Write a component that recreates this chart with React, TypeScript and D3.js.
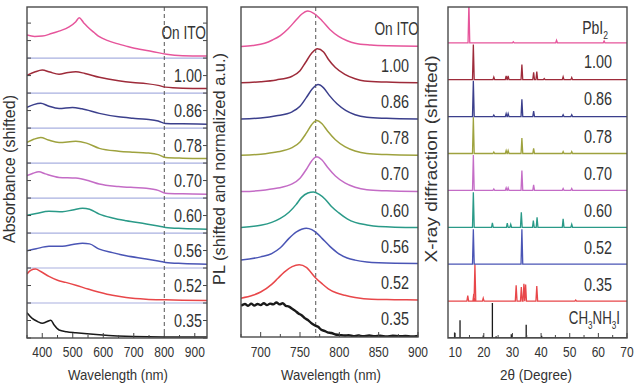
import React from 'react';
import * as d3 from 'd3';

// ---------- data ----------
const sampleLabels = ['0.35', '0.52', '0.56', '0.60', '0.70', '0.78', '0.86', '1.00', 'On ITO'];
const xrdLabels = ['CH3NH3I', '0.35', '0.52', '0.60', '0.70', '0.78', '0.86', '1.00', 'PbI2'];
const seriesColors = ['#1a1a1a', '#e8474a', '#4a55b5', '#2a9a88', '#c46cc6', '#9ea23e', '#3b3f8c', '#9e2b3a', '#e6559b'];
const xrdColors = ['#1a1a1a', '#e8474a', '#4a55b5', '#2a9a88', '#c46cc6', '#9ea23e', '#3b3f8c', '#9e2b3a', '#e6559b'];

// Absorbance (nm, shifted a.u.) one band per sample
const abs035 = [[350,0.72],[367,0.56],[385,0.47],[400,0.42],[416,0.47],[428,0.51],[439,0.37],[455,0.23],[480,0.18],[510,0.15],[587,0.09],[697,0.04],[800,0.03],[940,0.03]];
const abs052 = [[350,0.83],[362,0.93],[378,0.97],[395,0.9],[422,0.76],[450,0.65],[477,0.59],[510,0.51],[550,0.4],[587,0.31],[630,0.22],[675,0.16],[740,0.11],[804,0.09],[940,0.07]];
const abs056 = [[350,0.49],[380,0.55],[422,0.62],[466,0.62],[500,0.67],[532,0.71],[555,0.69],[587,0.54],[630,0.44],[675,0.35],[741,0.26],[780,0.2],[804,0.16],[860,0.13],[940,0.11]];
const abs060 = [[350,0.51],[380,0.56],[422,0.62],[466,0.61],[500,0.66],[532,0.71],[555,0.68],[587,0.54],[630,0.43],[675,0.35],[741,0.26],[780,0.2],[804,0.16],[860,0.13],[940,0.11]];
const abs070 = [[350,0.64],[370,0.71],[389,0.75],[410,0.69],[455,0.59],[510,0.57],[550,0.5],[587,0.4],[650,0.33],[700,0.3],[741,0.28],[780,0.22],[804,0.14],[860,0.12],[940,0.11]];
const abs078 = [[350,0.59],[372,0.68],[395,0.73],[420,0.66],[455,0.59],[510,0.62],[545,0.57],[587,0.42],[650,0.34],[700,0.31],[741,0.29],[780,0.24],[804,0.16],[860,0.14],[940,0.13]];
const abs086 = [[350,0.59],[372,0.67],[395,0.71],[420,0.63],[455,0.56],[499,0.59],[530,0.55],[587,0.42],[650,0.32],[697,0.28],[741,0.25],[780,0.2],[804,0.13],[860,0.12],[940,0.11]];
const abs100 = [[350,0.51],[375,0.6],[400,0.66],[425,0.6],[455,0.54],[485,0.59],[510,0.61],[540,0.56],[587,0.45],[650,0.35],[697,0.3],[741,0.27],[780,0.22],[804,0.17],[860,0.14],[940,0.13]];
const absITO = [[350,0.66],[375,0.62],[400,0.63],[430,0.7],[455,0.77],[488,0.89],[510,1.04],[521,1.15],[535,1.02],[549,0.89],[570,0.73],[587,0.61],[615,0.5],[642,0.42],[680,0.33],[719,0.25],[760,0.19],[807,0.11],[860,0.07],[940,0.06]];

// PL (nm, normalized)
const pl035 = [[675,0.86],[680,0.91],[684,0.86],[688,0.92],[692,0.87],[696,0.91],[700,0.88],[704,0.93],[708,0.88],[712,0.92],[716,0.9],[720,0.95],[724,0.9],[728,0.93],[732,0.86],[736,0.84],[740,0.78],[744,0.72],[748,0.65],[752,0.6],[756,0.52],[760,0.47],[764,0.39],[768,0.33],[773,0.28],[777,0.2],[781,0.17],[785,0.13],[790,0.11],[795,0.07],[800,0.06],[807,0.04],[812,0.05],[818,0.02],[824,0.04],[830,0.02],[838,0.04],[845,0.02],[852,0.035],[860,0.015],[868,0.035],[876,0.02],[884,0.03],[892,0.015],[900,0.03]];
const pl052 = [[675,0.07],[690,0.15],[700,0.24],[714,0.45],[722,0.62],[730,0.79],[740,0.94],[749,0.99],[758,0.92],[769,0.65],[778,0.47],[786,0.33],[796,0.22],[807,0.15],[820,0.09],[841,0.04],[870,0.03],[900,0.02]];
const pl056 = [[675,0.12],[700,0.21],[714,0.3],[725,0.46],[736,0.72],[745,0.89],[752,0.97],[758,1.0],[765,0.96],[772,0.85],[778,0.72],[788,0.5],[799,0.3],[810,0.18],[820,0.12],[835,0.07],[850,0.05],[900,0.03]];
const pl060 = [[675,0.02],[700,0.08],[714,0.16],[725,0.27],[736,0.44],[745,0.65],[752,0.85],[760,0.97],[767,1.0],[774,0.94],[782,0.8],[790,0.6],[799,0.43],[810,0.26],[820,0.16],[835,0.09],[850,0.05],[900,0.02]];
const pl070 = [[675,0.01],[700,0.04],[720,0.1],[740,0.22],[750,0.38],[758,0.62],[765,0.86],[771,0.97],[778,0.88],[785,0.68],[795,0.44],[807,0.25],[820,0.13],[835,0.06],[860,0.03],[900,0.01]];
const pl078 = [[675,0.01],[700,0.04],[720,0.1],[740,0.22],[750,0.38],[758,0.62],[765,0.86],[771,0.97],[778,0.88],[785,0.68],[795,0.44],[807,0.25],[820,0.13],[835,0.06],[860,0.03],[900,0.01]];
const pl086 = [[675,0.01],[700,0.04],[720,0.1],[740,0.21],[750,0.36],[758,0.6],[766,0.85],[773,0.96],[780,0.87],[787,0.67],[797,0.43],[808,0.25],[820,0.13],[835,0.06],[860,0.03],[900,0.01]];
const pl100 = [[675,0.01],[700,0.04],[720,0.09],[740,0.19],[750,0.34],[757,0.57],[765,0.83],[772,0.95],[780,0.86],[786,0.66],[795,0.43],[807,0.24],[820,0.12],[832,0.06],[860,0.03],[900,0.01]];
const plITO = [[675,0.01],[690,0.04],[705,0.1],[715,0.19],[725,0.31],[735,0.5],[745,0.74],[752,0.9],[760,0.99],[768,0.92],[778,0.72],[788,0.48],[799,0.29],[810,0.17],[820,0.1],[840,0.05],[862,0.03],[900,0.02]];

// XRD peaks (2theta, height)
const xrdMAI = [[9.8,0.15],[11.7,0.48],[19.8,0.07],[23.0,0.95],[24.3,0.05],[29.6,0.1],[34.8,0.36],[40.2,0.06]];
const xrd035 = [[14.4,0.15],[16.5,0.2],[16.9,1.0],[19.8,0.08],[31.3,0.43],[33.1,0.38],[34.0,0.47],[34.6,0.45],[38.5,0.41],[52.1,0.03]];
const xrd052 = [[16.35,0.95],[33.3,0.95]];
const xrd060 = [[16.35,0.95],[23.0,0.12],[28.2,0.11],[29.4,0.08],[33.1,0.41],[37.3,0.18],[38.6,0.27],[47.7,0.23],[50.7,0.08]];
const xrd070 = [[16.35,0.96],[23.5,0.04],[27.8,0.07],[28.5,0.07],[33.3,0.54],[37.4,0.15],[47.7,0.05],[50.7,0.05]];
const xrd078 = [[16.35,0.98],[23.5,0.04],[27.8,0.08],[28.5,0.08],[33.3,0.42],[37.4,0.14],[47.7,0.05],[50.7,0.05]];
const xrd086 = [[16.35,0.97],[23.5,0.04],[27.8,0.08],[28.5,0.08],[33.3,0.47],[37.4,0.15],[47.7,0.05],[50.7,0.05]];
const xrd100 = [[16.35,0.95],[23.5,0.07],[27.8,0.1],[28.5,0.1],[33.3,0.41],[37.4,0.2],[38.5,0.22],[41.1,0.03],[47.7,0.08],[50.7,0.06]];
const xrdPbI2 = [[14.8,1.1],[30.3,0.03],[45.4,0.07],[62.0,0.05]];

const absSeries = [abs035, abs052, abs056, abs060, abs070, abs078, abs086, abs100, absITO];
const plSeries = [pl035, pl052, pl056, pl060, pl070, pl078, pl086, pl100, plITO];
const xrdSeries = [xrdMAI, xrd035, xrd052, xrd060, xrd070, xrd078, xrd086, xrd100, xrdPbI2];

const absTicks = [400, 500, 600, 700, 800, 900];
const plTicks = [700, 750, 800, 850, 900];
const xrdTicks = [10, 20, 30, 40, 50, 60, 70];

// ---------- layout ----------
const FONT = "'Liberation Sans', Arial, sans-serif";
const TOP = 7;
const BOT = 338;
const INK = '#333';

const absX = d3.scaleLinear().domain([350, 940]).range([27, 207]);
const absY = d3.scaleLinear().domain([0, 9.46]).range([BOT, TOP]);
const plX = d3.scaleLinear().domain([675, 900]).range([241, 418]);
const plY = d3.scaleLinear().domain([0, 9.1]).range([337, TOP]);
const xrdX = d3.scaleLinear().domain([7.5, 70]).range([448, 627]);
const xrdY = d3.scaleLinear().domain([0, 8.97]).range([BOT, TOP]);

const absLabelOff = [0.5, 0.5, 0.5, 0.5, 0.5, 0.5, 0.5, 0.5, 0.72];
const plLabelOff = [0.5, 0.5, 0.5, 0.5, 0.5, 0.5, 0.5, 0.5, 0.5];
const xrdLabelOff = [0.55, 0.45, 0.45, 0.45, 0.45, 0.45, 0.48, 0.48, 0.42];

function smoothPath(pts: number[][], k: number, sx: any, sy: any) {
  return d3.line<number[]>()
    .x(d => sx(d[0]))
    .y(d => sy(d[1] + k))
    .curve(d3.curveMonotoneX)(pts) || '';
}

function xrdPath(peaks: number[][], k: number, stick: boolean) {
  const pts: number[][] = [[7.5, 0]];
  peaks.forEach(([p, h]) => {
    const w = stick ? 0 : 0.3;
    pts.push([p - w, 0], [p, h], [p + w, 0]);
  });
  pts.push([70, 0]);
  return d3.line<number[]>().x(d => xrdX(d[0])).y(d => xrdY(d[1] + k))(pts) || '';
}

function Frame({ x0, x1, y0, y1 }: any) {
  return <rect x={x0} y={y0} width={x1 - x0} height={y1 - y0} fill="none" stroke="#4a4a4a" strokeWidth={1.4} />;
}

// condensed text: drawn at origin then squeezed horizontally
function CT({ x, y, size, sx = 0.8, anchor = 'middle', children }: any) {
  return (
    <text transform={`translate(${x},${y}) scale(${sx},1)`} fontSize={size} textAnchor={anchor} fontFamily={FONT} fill={INK}>
      {children}
    </text>
  );
}

function LabelText({ text, x, y }: any) {
  const size = 18;
  if (text === 'PbI2') {
    return (
      <CT x={x} y={y} size={size} sx={0.78} anchor="end">
        PbI<tspan fontSize={11} dy={5}>2</tspan>
      </CT>
    );
  }
  if (text === 'CH3NH3I') {
    return (
      <CT x={x} y={y} size={size} sx={0.74} anchor="end">
        CH<tspan fontSize={11} dy={5}>3</tspan><tspan dy={-5}>NH</tspan><tspan fontSize={11} dy={5}>3</tspan><tspan dy={-5}>I</tspan>
      </CT>
    );
  }
  return <CT x={x} y={y} size={size} sx={text === 'On ITO' ? 0.76 : 0.8} anchor="end">{text}</CT>;
}

function YTitle({ x, y, len, children }: any) {
  return (
    <text transform={`translate(${x},${y}) rotate(-90)`} fontSize={16} textAnchor="middle" fontFamily={FONT} fill={INK}
      textLength={len} lengthAdjust="spacingAndGlyphs">{children}</text>
  );
}

function XTitle({ x, y, len, children }: any) {
  return (
    <text x={x} y={y} fontSize={15} textAnchor="middle" fontFamily={FONT} fill={INK}
      textLength={len} lengthAdjust="spacingAndGlyphs">{children}</text>
  );
}

export default function App() {
  const absMinor = d3.range(350, 941, 50);
  const plMinor = d3.range(675, 901, 25);
  const xrdMinor = d3.range(10, 71, 5);
  const absYTicks = d3.range(0, 9.5, 0.5);

  return (
    <svg width={638} height={390} style={{ position: 'absolute', left: 0, top: 0, background: '#fff' }}>
      <defs>
        <clipPath id="cA"><rect x={27} y={TOP} width={180} height={BOT - TOP} /></clipPath>
        <clipPath id="cP"><rect x={241} y={TOP} width={177} height={337 - TOP} /></clipPath>
        <clipPath id="cX"><rect x={448} y={TOP} width={179} height={BOT - TOP} /></clipPath>
      </defs>

      {/* ---------- Absorbance panel ---------- */}
      <g clipPath="url(#cA)">
        {d3.range(1, 9).map(k => (
          <line key={k} x1={27} x2={207} y1={absY(k)} y2={absY(k)} stroke="#a9b0e0" strokeWidth={1.2} />
        ))}
        <line x1={absX(800)} x2={absX(800)} y1={TOP} y2={BOT} stroke="#555" strokeDasharray="4,3" strokeWidth={1} />
        {absSeries.map((s, k) => (
          <path key={k} d={smoothPath(s, k, absX, absY)} fill="none" stroke={seriesColors[k]} strokeWidth={1.5} />
        ))}
      </g>
      {absMinor.map(v => (
        <line key={v} x1={absX(v)} x2={absX(v)} y1={BOT} y2={BOT - (v % 100 === 0 ? 5 : 3)} stroke="#444" strokeWidth={1} />
      ))}
      {absYTicks.map(v => (
        <g key={v}>
          <line x1={27} x2={31} y1={absY(v)} y2={absY(v)} stroke="#444" strokeWidth={1} />
          <line x1={207} x2={203} y1={absY(v)} y2={absY(v)} stroke="#444" strokeWidth={1} />
        </g>
      ))}
      {sampleLabels.map((t, k) => (
        <LabelText key={t} text={t} x={k === 8 ? 206 : 202} y={absY(k + absLabelOff[k]) + 6.5} />
      ))}
      <Frame x0={27} x1={207} y0={TOP} y1={BOT} />
      {absTicks.map(v => (
        <CT key={v} x={absX(v)} y={357} size={15}>{v}</CT>
      ))}
      <XTitle x={118} y={380} len={100}>Wavelength (nm)</XTitle>
      <YTitle x={15} y={169} len={148}>Absorbance (shifted)</YTitle>

      {/* ---------- PL panel ---------- */}
      <g clipPath="url(#cP)">
        <line x1={plX(770)} x2={plX(770)} y1={TOP} y2={337} stroke="#555" strokeDasharray="4,3" strokeWidth={1} />
        {plSeries.map((s, k) => (
          <path key={k} d={smoothPath(s, k, plX, plY)} fill="none" stroke={seriesColors[k]} strokeWidth={k === 0 ? 2.4 : 1.5} />
        ))}
      </g>
      {plMinor.map(v => (
        <line key={v} x1={plX(v)} x2={plX(v)} y1={337} y2={337 - (v % 50 === 0 ? 5 : 3)} stroke="#444" strokeWidth={1} />
      ))}
      {sampleLabels.map((t, k) => (
        <LabelText key={t} text={t} x={k === 8 ? 419 : 409} y={plY(k + plLabelOff[k]) + 6.5} />
      ))}
      <Frame x0={241} x1={418} y0={TOP} y1={337} />
      {plTicks.map(v => (
        <CT key={v} x={plX(v)} y={357} size={15}>{v}</CT>
      ))}
      <XTitle x={331} y={380} len={100}>Wavelength (nm)</XTitle>
      <YTitle x={225} y={169} len={232}>PL (shifted and normalized a.u.)</YTitle>

      {/* ---------- XRD panel ---------- */}
      <g clipPath="url(#cX)">
        {xrdSeries.map((s, k) => (
          <path key={k} d={xrdPath(s, k, k === 0)} fill="none" stroke={xrdColors[k]} strokeWidth={1.3} />
        ))}
      </g>
      {xrdMinor.map(v => (
        <line key={v} x1={xrdX(v)} x2={xrdX(v)} y1={BOT} y2={BOT - (v % 10 === 0 ? 5 : 3)} stroke="#444" strokeWidth={1} />
      ))}
      {xrdLabels.map((t, k) => (
        <LabelText key={t} text={t} x={k === 0 ? 620 : k === 8 ? 608 : 612} y={xrdY(k + xrdLabelOff[k]) + 6.5} />
      ))}
      <Frame x0={448} x1={627} y0={TOP} y1={BOT} />
      {xrdTicks.map(v => (
        <CT key={v} x={xrdX(v)} y={357} size={15}>{v}</CT>
      ))}
      <XTitle x={536} y={380} len={72}>2θ (Degree)</XTitle>
      <YTitle x={437} y={159} len={207}>X-ray diffraction (shifted)</YTitle>
    </svg>
  );
}
